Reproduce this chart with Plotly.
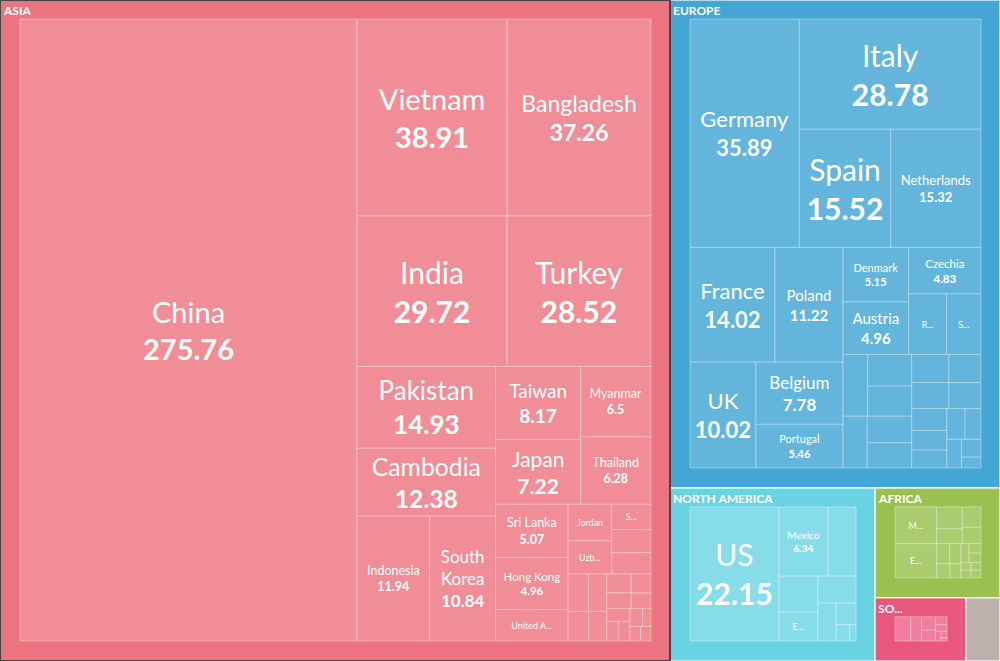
import plotly.graph_objects as go

# ---------------- data ----------------
world = "WORLD"
regions = ["ASIA", "EUROPE", "NORTH AMERICA", "AFRICA", "SOUTH AMERICA", "OCEANIA"]
region_headers = ["ASIA", "EUROPE", "NORTH AMERICA", "AFRICA", "SO...", " "]

asia_countries = ["China", "Vietnam", "Bangladesh", "India", "Turkey", "Pakistan", "Cambodia",
                  "Indonesia", "South Korea", "Taiwan", "Japan", "Myanmar", "Thailand",
                  "Sri Lanka", "Hong Kong", "United Arab Emirates", "Jordan", "Uzbekistan",
                  "Saudi Arabia", "Malaysia", "Philippines", "Israel", "Singapore", "Nepal",
                  "Laos", "Iran", "Kyrgyzstan", "Kazakhstan", "Macau", "Mongolia", "Syria",
                  "Lebanon", "Georgia", "Armenia", "Azerbaijan", "Bhutan"]
asia_values = [275.76, 38.91, 37.26, 29.72, 28.52, 14.93, 12.38,
               11.94, 10.84, 8.17, 7.22, 6.5, 6.28,
               5.07, 4.96, 3.0, 2.1, 1.9,
               1.3, 1.2, 1.1, 1.0, 0.9, 0.8,
               0.7, 0.6, 0.5, 0.5, 0.4, 0.4, 0.3,
               0.3, 0.3, 0.2, 0.2, 0.2]

europe_countries = ["Germany", "Italy", "Spain", "Netherlands", "France", "Poland", "UK",
                    "Belgium", "Portugal", "Denmark", "Austria", "Czechia", "Romania",
                    "Switzerland", "Sweden", "Greece", "Bulgaria", "Lithuania", "Hungary",
                    "Slovakia", "Belarus", "Ireland", "Finland", "Ukraine", "Slovenia",
                    "Croatia", "Latvia", "Norway", "Estonia", "Serbia", "Luxembourg",
                    "North Macedonia"]
europe_values = [35.89, 28.78, 15.52, 15.32, 14.02, 11.22, 10.02,
                 7.78, 5.46, 5.15, 4.96, 4.83, 3.3,
                 3.0, 2.2, 2.0, 1.9, 1.8, 1.7,
                 1.6, 1.5, 1.4, 1.3, 1.2, 1.1,
                 1.0, 0.9, 0.8, 0.7, 0.6, 0.5,
                 0.3]

namerica_countries = ["US", "Mexico", "Canada", "Guatemala", "El Salvador", "Honduras",
                      "Nicaragua", "Dominican Republic", "Haiti", "Costa Rica"]
namerica_values = [22.15, 6.34, 3.6, 2.6, 2.1, 1.9, 1.3, 0.8, 0.4, 0.2]

africa_countries = ["Morocco", "Egypt", "Tunisia", "Mauritius", "Madagascar", "Ethiopia",
                    "Kenya", "South Africa", "Lesotho", "Eswatini", "Tanzania", "Nigeria",
                    "Ghana", "Benin", "Burkina Faso", "Mali", "Cote d'Ivoire"]
africa_values = [4.0, 3.7, 1.5, 1.0, 1.0, 0.8, 0.7, 0.6, 0.5, 0.4, 0.4, 0.3, 0.3,
                 0.2, 0.2, 0.2, 0.2]

samerica_countries = ["Brazil", "Peru", "Colombia", "Argentina", "Chile", "Ecuador",
                      "Uruguay", "Bolivia", "Paraguay"]
samerica_values = [2.0, 1.4, 1.0, 0.8, 0.5, 0.4, 0.3, 0.2, 0.1]

oceania_countries = ["Australia", "New Zealand", "Fiji"]
oceania_values = [1.6, 0.6, 0.3]

# leaves whose name and value are written in full
full_labels = ["China", "Vietnam", "Bangladesh", "India", "Turkey", "Pakistan", "Cambodia",
               "Indonesia", "South Korea", "Taiwan", "Japan", "Myanmar", "Thailand",
               "Sri Lanka", "Hong Kong", "Germany", "Italy", "Spain", "Netherlands",
               "France", "Poland", "UK", "Belgium", "Portugal", "Denmark", "Austria",
               "Czechia", "US", "Mexico"]
# names written over several lines
wrapped_names = {"South Korea": "South<br>Korea"}
# leaves shown with a truncated name only
short_labels = {"United Arab Emirates": "United A...", "Jordan": "Jordan",
                "Uzbekistan": "Uzb...", "Saudi Arabia": "S...", "Romania": "R...",
                "Switzerland": "S...", "El Salvador": "E...", "Morocco": "M...",
                "Egypt": "E..."}

# ---------------- styles ----------------
region_color = {"ASIA": "#EC7481", "EUROPE": "#43A6D5", "NORTH AMERICA": "#68D3E3",
                "AFRICA": "#9AC14F", "SOUTH AMERICA": "#E9577F", "OCEANIA": "#BDB2AA"}
leaf_color = {"ASIA": "#F08D96", "EUROPE": "#63B5DC", "NORTH AMERICA": "#86DDE9",
              "AFRICA": "#AACB6E", "SOUTH AMERICA": "#EE7E9D", "OCEANIA": "#C8BFB8"}
label_size = {"China": 29, "Vietnam": 29, "Bangladesh": 23, "India": 30, "Turkey": 30,
              "Pakistan": 26, "Cambodia": 25, "Indonesia": 12.5, "South Korea": 17,
              "Taiwan": 19, "Japan": 21, "Myanmar": 12.5, "Thailand": 12.5,
              "Sri Lanka": 12.5, "Hong Kong": 11.5, "Germany": 22, "Italy": 30,
              "Spain": 30, "Netherlands": 13, "France": 22, "Poland": 15, "UK": 22,
              "Belgium": 17, "Portugal": 11, "Denmark": 11, "Austria": 15,
              "Czechia": 11.5, "US": 30, "Mexico": 10}
small_size = 9
header_size = 12
FONT = "Lato, Open Sans, sans-serif"
NONE = "rgba(0,0,0,0)"
PAD = dict(t=19, l=20, r=19, b=20)

groups = [
    (asia_countries, asia_values),
    (europe_countries, europe_values),
    (namerica_countries, namerica_values),
    (africa_countries, africa_values),
    (samerica_countries, samerica_values),
    (oceania_countries, oceania_values),
]

# ---------- trace 1: full hierarchy (boxes and leaf texts) ----------
ids, parents, values = [world], [""], [0]
box_labels, leaf_text = [" "], [""]
colors, line_colors, line_widths, leaf_sizes = ["white"], [NONE], [0], [header_size]

for reg in regions:
    ids.append(reg)
    parents.append(world)
    values.append(0)
    box_labels.append(" ")          # header text is drawn by the second trace
    leaf_text.append("")
    colors.append(region_color[reg])
    line_colors.append("rgba(255,255,255,0.8)")
    line_widths.append(1.5)
    leaf_sizes.append(header_size)

for reg, (names, vals) in zip(regions, groups):
    for n, v in zip(names, vals):
        ids.append(reg + "/" + n)
        parents.append(reg)
        values.append(v)
        box_labels.append(n)
        if n in full_labels:
            name = wrapped_names.get(n, n)
            leaf_text.append(f"{name}<br><b>{v:g}</b>")
            leaf_sizes.append(label_size[n])
        elif n in short_labels:
            leaf_text.append(short_labels[n])
            leaf_sizes.append(small_size)
        else:
            leaf_text.append("")
            leaf_sizes.append(small_size)
        colors.append(leaf_color[reg])
        line_colors.append("rgba(255,255,255,0.35)")
        line_widths.append(1)

fig = go.Figure(go.Treemap(
    ids=ids, parents=parents, values=values, branchvalues="remainder",
    labels=box_labels,
    text=leaf_text,
    texttemplate="%{text}",
    textposition="middle center",
    tiling=dict(packing="binary", pad=0),
    pathbar=dict(visible=False),
    marker=dict(colors=colors, line=dict(color=line_colors, width=line_widths), pad=PAD),
    insidetextfont=dict(family=FONT, color="white", size=leaf_sizes),
    hoverinfo="skip",
))

# ---------- trace 2: same regions as leaves, carrying the top-left headers ----------
region_totals = [sum(vals) for _, vals in groups]
fig.add_trace(go.Treemap(
    ids=[world] + regions,
    parents=[""] + [world] * len(regions),
    values=[0] + region_totals,
    branchvalues="remainder",
    labels=[" "] + region_headers,
    texttemplate="%{label}",
    textposition="top left",
    tiling=dict(packing="binary", pad=0),
    pathbar=dict(visible=False),
    marker=dict(colors=[NONE] * (len(regions) + 1),
                line=dict(color=[NONE] * (len(regions) + 1), width=[0] * (len(regions) + 1)),
                pad=PAD),
    insidetextfont=dict(family=FONT, color="white", size=header_size, weight="bold"),
    hoverinfo="skip",
))

fig.update_layout(
    width=1000 + PAD["l"] + PAD["r"], height=661 + PAD["t"] + PAD["b"],
    margin=dict(l=0, r=0, t=0, b=0),
    paper_bgcolor="white",
)

# the top level of the hierarchy also gets the padding: move that frame off-screen
shift = ("var gd=document.getElementById('{plot_id}');"
         "document.body.style.margin='0';document.body.style.overflow='hidden';"
         "gd.style.position='absolute';"
         f"gd.style.left='-{PAD['l']}px';gd.style.top='-{PAD['t']}px';")

fig.write_html("out.html", post_script=shift)
